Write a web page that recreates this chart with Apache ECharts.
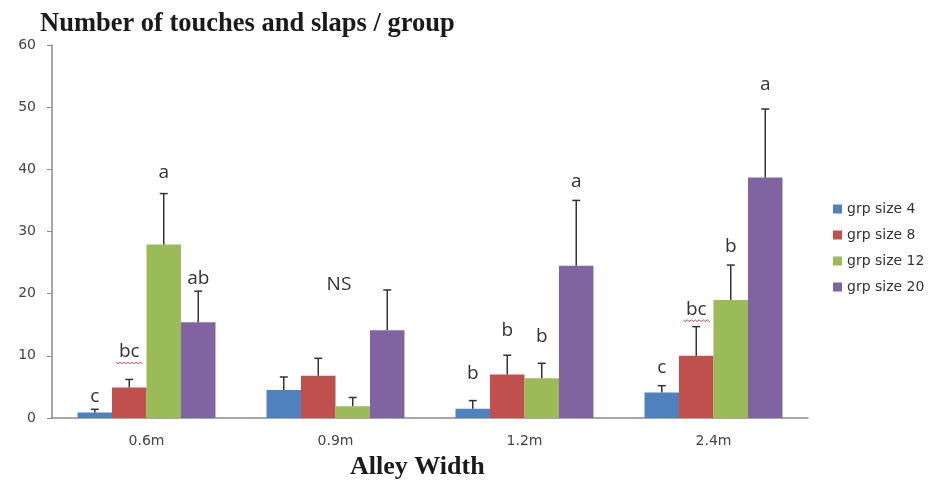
<!DOCTYPE html>
<html>
<head>
<meta charset="utf-8">
<script src="https://cdn.jsdelivr.net/npm/echarts@6/dist/echarts.min.js"></script>
<style>
  html, body { margin: 0; padding: 0; background: #fff; }
  #main { width: 931px; height: 483px; }
</style>
</head>
<body>
<div id="main"></div>
<script>
var categories = ['0.6m', '0.9m', '1.2m', '2.4m'];
var seriesNames = ['grp size 4', 'grp size 8', 'grp size 12', 'grp size 20'];
var colors = ['#4f81bd', '#c0504d', '#9bbb59', '#8064a2'];

// bar heights
var means4 = [0.9, 4.5, 1.5, 4.1];
var means8 = [4.9, 6.8, 7.0, 10.0];
var means12 = [27.9, 1.9, 6.4, 19.0];
var means20 = [15.4, 14.1, 24.5, 38.7];

// top of the error bars
var errTop4 = [1.4, 6.6, 2.8, 5.2];
var errTop8 = [6.2, 9.6, 10.1, 14.7];
var errTop12 = [36.1, 3.3, 8.8, 24.6];
var errTop20 = [20.4, 20.6, 35.0, 49.7];

// significance letters and the level they sit at
var letters4 = ['c', '', 'b', 'c'];
var letters8 = ['bc', '', 'b', 'bc'];
var letters12 = ['a', '', 'b', 'b'];
var letters20 = ['ab', '', 'a', 'a'];
var letterY4 = [3.4, null, 7.1, 8.1];
var letterY8 = [10.7, null, 14.1, 17.5];
var letterY12 = [39.4, null, 13.1, 27.5];
var letterY20 = [22.5, null, 38.1, 53.7];
var groupNotes = ['', 'NS', '', ''];
var groupNoteY = [null, 21.5, null, null];

var yTicks = [0, 10, 20, 30, 40, 50, 60];

var means = [means4, means8, means12, means20];
var errTops = [errTop4, errTop8, errTop12, errTop20];
var letters = [letters4, letters8, letters12, letters20];
var letterYs = [letterY4, letterY8, letterY12, letterY20];

var GAP = 0.27;

var errData = [];
var letterItems = [];
for (var s = 0; s < 4; s++) {
  for (var c = 0; c < categories.length; c++) {
    errData.push([c, s, means[s][c], errTops[s][c]]);
    if (letters[s][c]) {
      letterItems.push({ cat: c, pos: s, y: letterYs[s][c], text: letters[s][c] });
    }
  }
}
for (var c = 0; c < categories.length; c++) {
  if (groupNotes[c]) {
    letterItems.push({ cat: c, pos: 1.6, y: groupNoteY[c], text: groupNotes[c] });
  }
}
var letterData = letterItems.map(function (d) { return [d.cat, d.pos, d.y]; });

function barX(api, cat, pos) {
  var band = api.size([1, 0])[0];
  var bw = band * (1 - GAP) / 4;
  return api.coord([cat, 0])[0] + (pos - 1.5) * bw;
}

function renderErr(params, api) {
  var cat = api.value(0), s = api.value(1);
  var x = barX(api, cat, s);
  var lo = api.coord([cat, api.value(2)])[1];
  var hi = api.coord([cat, api.value(3)])[1];
  var st = { stroke: '#333', lineWidth: 1.5 };
  return {
    type: 'group',
    children: [
      { type: 'line', shape: { x1: x, y1: lo, x2: x, y2: hi }, style: st },
      { type: 'line', shape: { x1: x - 4, y1: hi, x2: x + 4, y2: hi }, style: st }
    ]
  };
}

function renderLetter(params, api) {
  var item = letterItems[params.dataIndex];
  var x = barX(api, item.cat, item.pos);
  var y = api.coord([item.cat, item.y])[1];
  var children = [{
    type: 'text',
    style: {
      x: x, y: y, text: item.text,
      fill: '#333', font: '19px "Open Sans", sans-serif',
      textAlign: 'center', textVerticalAlign: 'middle'
    }
  }];
  if (item.text === 'bc') {
    // spell-check squiggle under "bc"
    var pts = [];
    for (var i = 0; i <= 13; i++) {
      pts.push([x - 13 + i * 2, y + 11 + (i % 2 ? 1.5 : -0.5)]);
    }
    children.push({ type: 'polyline', shape: { points: pts }, style: { stroke: '#d04040', lineWidth: 1, fill: null } });
  }
  return { type: 'group', children: children };
}

var chart = echarts.init(document.getElementById('main'));

var series = seriesNames.map(function (name, i) {
  return {
    name: name,
    type: 'bar',
    data: means[i],
    barGap: 0,
    barCategoryGap: (GAP * 100) + '%',
    itemStyle: { color: colors[i] },
    z: 2
  };
});
series.push({
  type: 'custom',
  renderItem: renderErr,
  data: errData,
  encode: { x: 0, y: 3 },
  z: 3,
  silent: true
});
series.push({
  type: 'custom',
  renderItem: renderLetter,
  data: letterData,
  encode: { x: 0, y: 2 },
  z: 4,
  silent: true
});

var option = {
  backgroundColor: '#fff',
  animation: false,
  color: colors,
  grid: { left: 52, right: 123, top: 45, bottom: 65 },
  legend: {
    orient: 'vertical',
    left: 833,
    top: 202,
    padding: 0,
    itemWidth: 9,
    itemHeight: 9,
    itemGap: 12,
    icon: 'rect',
    data: seriesNames,
    textStyle: { fontFamily: 'DejaVu Sans', fontSize: 14, lineHeight: 14, color: '#333' }
  },
  graphic: [
    {
      type: 'text', left: 40, top: 11,
      style: { text: 'Number of touches and slaps / group', font: 'bold 26.5px "Liberation Serif", serif', fill: '#1a1a1a' }
    },
    {
      type: 'text', left: 350, top: 454,
      style: { text: 'Alley Width', font: 'bold 26px "Liberation Serif", serif', fill: '#1a1a1a' }
    }
  ],
  xAxis: {
    type: 'category',
    data: categories,
    axisLine: { lineStyle: { color: '#8a8a8a', width: 1.5 } },
    axisTick: { show: false },
    axisLabel: { margin: 16, fontFamily: 'DejaVu Sans', fontSize: 14, color: '#444' }
  },
  yAxis: {
    type: 'value',
    min: 0,
    max: 60,
    interval: 10,
    axisLine: { show: true, lineStyle: { color: '#8a8a8a', width: 1.5 } },
    axisTick: { show: true, length: 5, lineStyle: { color: '#8a8a8a' } },
    splitLine: { show: false },
    axisLabel: {
      margin: 16,
      fontFamily: 'DejaVu Sans', fontSize: 14, color: '#444',
      formatter: function (v) { return yTicks.indexOf(v) >= 0 ? String(v) : ''; }
    }
  },
  series: series
};

chart.setOption(option);
</script>
</body>
</html>
